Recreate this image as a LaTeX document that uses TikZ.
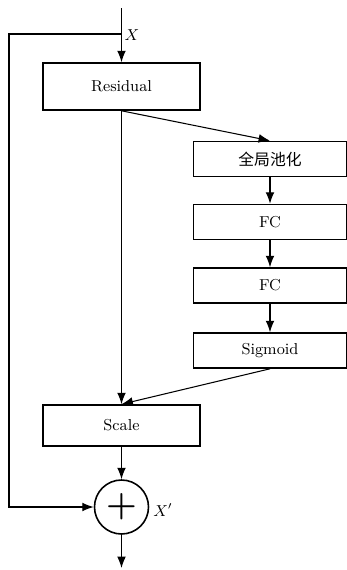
\documentclass[tikz,border=0pt]{standalone}
\usepackage{fontspec}
\newfontfamily\cjk{Noto Sans CJK SC}
\usetikzlibrary{shapes, arrows.meta, calc}

\begin{document}
\begin{tikzpicture}[>={Latex[length=6.5pt, width=5pt]}, line width=0.6pt]
\small
\tikzset{box/.style={draw, line width=0.9pt, minimum width=3.14cm, minimum height=0.7cm},
         rbox/.style={box, minimum width=3.06cm}}
\useasboundingbox (0, 0) rectangle (6.94, -11.4);
\coordinate (top) at (2.43, -0.16);
\coordinate (split) at (2.43, -0.68);
\coordinate (corner) at (0.18, -10.14);
\coordinate (out) at (2.43, -11.36);
\node[box, minimum height=0.94cm] at (2.43, -1.73) (res) {Residual};
\node[rbox] at (5.40, -3.18) (pool) {\cjk 全局池化};
\node[rbox] at (5.40, -4.44) (fc1) {FC};
\node[rbox] at (5.40, -5.71) (fc2) {FC};
\node[rbox] at (5.40, -7.01) (sig) {Sigmoid};
\node[box, minimum height=0.82cm] at (2.43, -8.51) (scale) {Scale};
\node[draw, circle, line width=0.9pt, minimum size=1.08cm, inner sep=0pt] at (2.43, -10.14) (add) {\fontsize{20}{20}\selectfont\bfseries +};
\node at (2.64, -0.70) {$X$};
\node at (3.26, -10.20) {$X'$};
\draw[->] (top) -- (res);
\draw[->] (split) -| (corner) -- (add.west);
\draw[->] (res.south) -- (pool.north);
\draw[->] (pool) -- (fc1);
\draw[->] (fc1) -- (fc2);
\draw[->] (fc2) -- (sig);
\draw[->] (sig.south) -- (scale.north);
\draw[->] (res) -- (scale);
\draw[->] (scale) -- (add);
\draw[->] (add) -- (out);
\end{tikzpicture}
\end{document}
